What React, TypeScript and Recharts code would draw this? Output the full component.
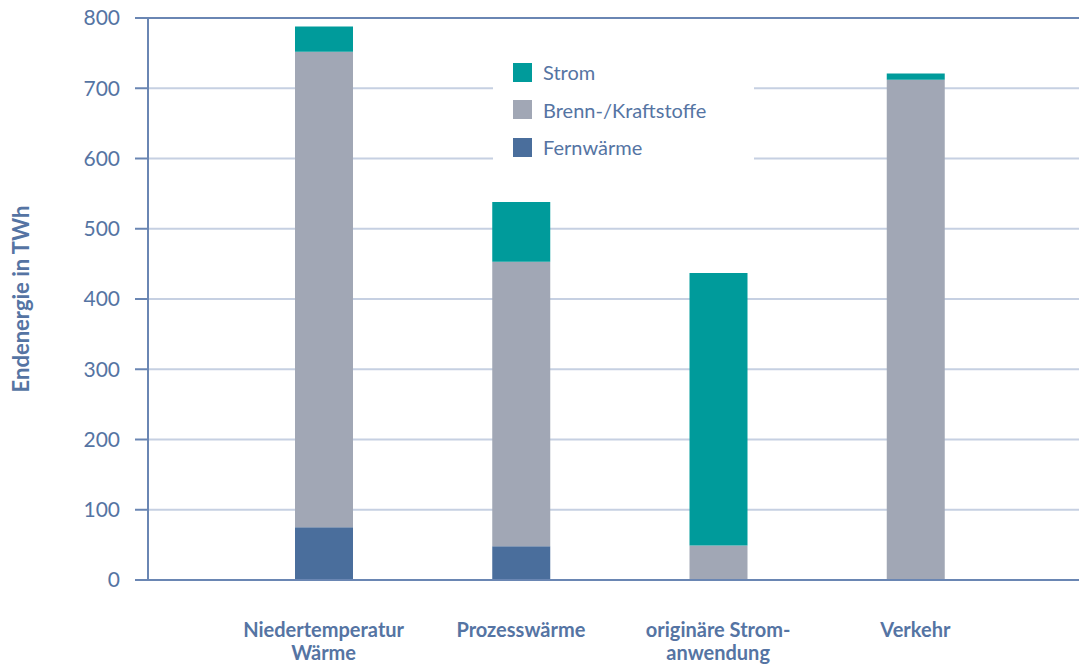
import React from 'react';
import {
  BarChart,
  Bar,
  XAxis,
  YAxis,
  CartesianGrid,
  ReferenceLine,
  Label,
} from 'recharts';

// Endenergie je Anwendungsbereich, in TWh
const categories = ['Niedertemperatur Wärme', 'Prozesswärme', 'originäre Stromanwendung', 'Verkehr'];
const tickLabels = [
  ['Niedertemperatur', 'Wärme'],
  ['Prozesswärme'],
  ['originäre Strom-', 'anwendung'],
  ['Verkehr'],
];
const fernwaerme = [75, 48, 0, 0];
const brennKraftstoffe = [677, 405, 49, 712];
const strom = [36, 85, 388, 9];
const yTicks = [0, 100, 200, 300, 400, 500, 600, 700, 800];

const FONT = 'Lato, "Open Sans", sans-serif';
const TEXT = '#5574a3';
const AXIS = '#6a86b3';
const GRID = '#c6d0e2';

const COLORS = {
  strom: '#009b9b',
  brenn: '#a1a7b5',
  fern: '#4a6e9c',
};

const legendItems = [
  { name: 'Strom', color: COLORS.strom },
  { name: 'Brenn-/Kraftstoffe', color: COLORS.brenn },
  { name: 'Fernwärme', color: COLORS.fern },
];

const chartData = categories.map((name, i) => ({
  name,
  fern: fernwaerme[i],
  brenn: brennKraftstoffe[i],
  strom: strom[i],
}));

const CategoryTick = (props: any) => {
  const { x, y, index } = props;
  const lines = tickLabels[index] || [];
  return (
    <text
      x={x}
      y={y + 51}
      textAnchor="middle"
      fill={TEXT}
      fontFamily={FONT}
      fontWeight={700}
      fontSize={20}
    >
      {lines.map((line, i) => (
        <tspan key={i} x={x} dy={i === 0 ? 0 : 23}>
          {line}
        </tspan>
      ))}
    </text>
  );
};

const AxisTitle = (props: any) => {
  const { viewBox } = props;
  const cy = viewBox.y + viewBox.height / 2;
  return (
    <text
      x={29}
      y={cy}
      transform={`rotate(-90, 29, ${cy})`}
      textAnchor="middle"
      fill={TEXT}
      fontFamily={FONT}
      fontWeight={700}
      fontSize={22}
    >
      Endenergie in TWh
    </text>
  );
};

export default function App() {
  return (
    <div
      style={{
        position: 'absolute',
        left: 0,
        top: 0,
        width: 1079,
        height: 665,
        background: '#fff',
      }}
    >
      <BarChart
        width={1079}
        height={665}
        data={chartData}
        margin={{ top: 18, right: 0, left: 0, bottom: 0 }}
        barSize={58}
      >
        <CartesianGrid vertical={false} stroke={GRID} strokeWidth={2} />
        <XAxis
          dataKey="name"
          height={85}
          interval={0}
          tickLine={false}
          tickMargin={0}
          axisLine={{ stroke: AXIS, strokeWidth: 2 }}
          padding={{ left: 77, right: 65 }}
          tick={<CategoryTick />}
        />
        <YAxis
          width={148}
          domain={[0, 800]}
          ticks={yTicks}
          interval={0}
          tickSize={13}
          tickMargin={15}
          axisLine={{ stroke: AXIS, strokeWidth: 2 }}
          tickLine={{ stroke: AXIS, strokeWidth: 2 }}
          tick={{ fill: TEXT, fontFamily: FONT, fontSize: 21 }}
        >
          <Label content={<AxisTitle />} />
        </YAxis>
        <ReferenceLine y={800} stroke={AXIS} strokeWidth={2} />
        <Bar dataKey="fern" stackId="a" fill={COLORS.fern} isAnimationActive={false} />
        <Bar dataKey="brenn" stackId="a" fill={COLORS.brenn} isAnimationActive={false} />
        <Bar dataKey="strom" stackId="a" fill={COLORS.strom} isAnimationActive={false} />
      </BarChart>

      {/* legend box sits over the grid lines */}
      <div
        style={{
          position: 'absolute',
          left: 493,
          top: 52,
          width: 261,
          height: 116,
          background: '#fff',
          fontFamily: FONT,
          fontSize: 20,
          color: TEXT,
        }}
      >
        {legendItems.map((item, i) => (
          <div
            key={item.name}
            style={{
              position: 'absolute',
              left: 20,
              top: 10 + i * 37.5,
              display: 'flex',
              alignItems: 'center',
              height: 20,
            }}
          >
            <span
              style={{
                display: 'inline-block',
                width: 19,
                height: 19,
                background: item.color,
                marginRight: 11,
              }}
            />
            <span>{item.name}</span>
          </div>
        ))}
      </div>
    </div>
  );
}
